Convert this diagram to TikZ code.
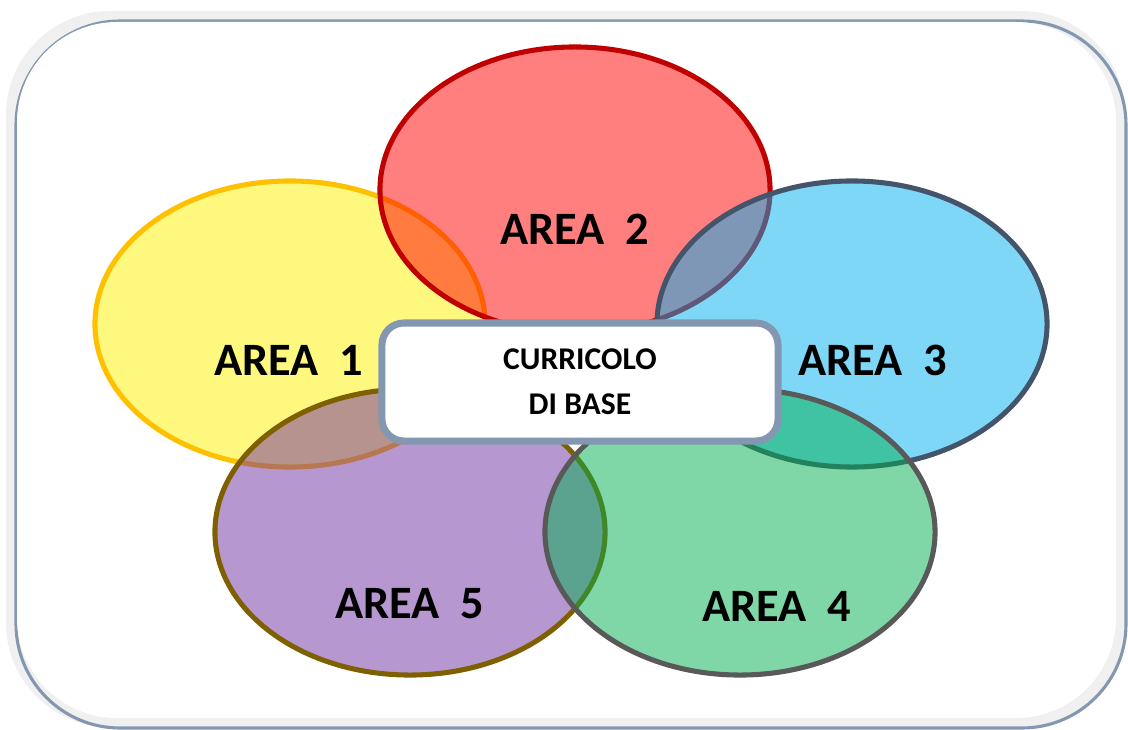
\documentclass[tikz,border=0pt]{standalone}
\usepackage{fontspec}
\setmainfont{Carlito}
\usepackage{xcolor}
\usetikzlibrary{shapes.geometric}

\definecolor{framegray}{HTML}{F0F0F0}
\definecolor{frameblue}{HTML}{8497B0}
\definecolor{lineyellow}{HTML}{FFC000}
\definecolor{linered}{HTML}{C00000}
\definecolor{lineblue}{HTML}{44546A}
\definecolor{linepurple}{HTML}{7F6000}
\definecolor{linegreen}{HTML}{595959}
\definecolor{fillblue}{HTML}{00B0F0}
\definecolor{fillpurple}{HTML}{7030A0}
\definecolor{fillgreen}{HTML}{00B050}

\tikzset{
	area/.style 2 args={ellipse, draw=#1, fill=#2, fill opacity=0.5, line width=3.6pt,
		minimum width=9.75cm, minimum height=7.15cm, inner sep=0pt},
	arealabel/.style={font=\fontsize{33}{40}\selectfont\bfseries, inner sep=0pt},
	basebox/.style={draw=frameblue, fill=white, line width=5pt, rounded corners=0.55cm,
		minimum width=9.9cm, minimum height=2.95cm, align=center,
		font=\fontsize{22.5}{32}\selectfont\bfseries}
}

\begin{document}
\begin{tikzpicture}[x=0.025cm, y=-0.025cm]
	\useasboundingbox (0,0) rectangle (1128,729);
	% frame
	\fill[framegray, rounded corners=2.6cm] (6,11) rectangle (1125,727);
	\draw[frameblue, line width=2.2pt, rounded corners=2.6cm] (16,21) rectangle (1126,728);
	\fill[white, rounded corners=2.5cm] (17,22) rectangle (1116,718);
	% the five areas
	\node[area={lineyellow}{yellow}] (a1) at (290,324) {};
	\node[area={linered}{red}] (a2) at (575,190) {};
	\node[area={lineblue}{fillblue}] (a3) at (852,324) {};
	\node[area={linepurple}{fillpurple}] (a5) at (410,532) {};
	\node[area={linegreen}{fillgreen}] (a4) at (740,532) {};
	\node[basebox] (base) at (580,382) {CURRICOLO\\DI BASE};
	\node[arealabel] (l1) at (289,360) {AREA\ \ 1};
	\node[arealabel] (l2) at (575,229) {AREA\ \ 2};
	\node[arealabel] (l3) at (873,360) {AREA\ \ 3};
	\node[arealabel] (l4) at (777,606) {AREA\ \ 4};
	\node[arealabel] (l5) at (410,604) {AREA\ \ 5};
\end{tikzpicture}
\end{document}
